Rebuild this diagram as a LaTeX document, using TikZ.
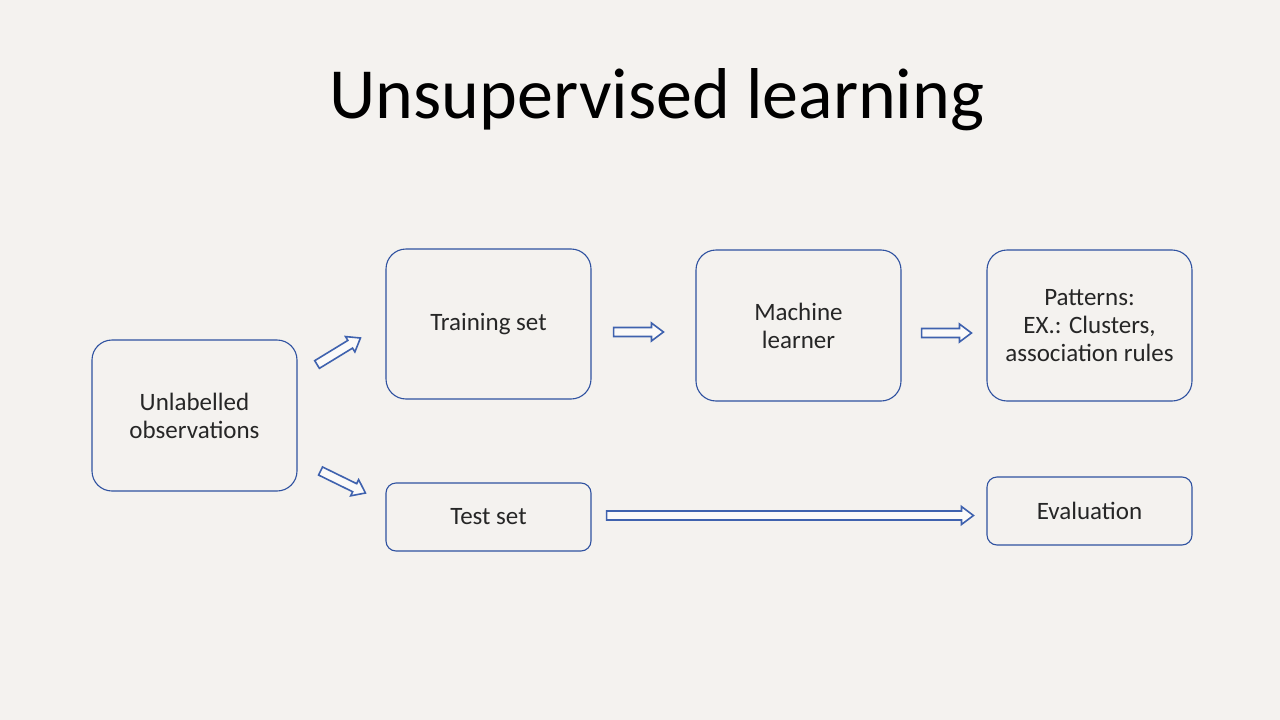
\documentclass[tikz,border=0pt]{standalone}
\usepackage{fontspec}
\setmainfont{Carlito}
\usetikzlibrary{calc}
\definecolor{bg}{HTML}{F4F2EF}
\definecolor{boxblue}{HTML}{2F52A0}
\definecolor{arrblue}{HTML}{3F62AE}
\tikzset{
  rbox/.style={draw=boxblue, line width=1.1pt, rounded corners=20pt, align=center,
    font=\fontsize{25}{28}\selectfont, text=black!85},
  sbox/.style={rbox, rounded corners=10pt},
  barr/.style={draw=arrblue, line width=1.6pt, fill=white!60!bg, line join=miter},
}
% block arrow from #1 to #2, neck coordinate named #3
\newcommand\blockarr[3]{%
  \coordinate (#3) at ($(#2)!12pt!(#1)$);
  \path[barr] ($(#1)!4.5pt!-90:(#2)$) -- ($(#3)!4.5pt!-90:(#2)$) -- ($(#3)!9pt!-90:(#2)$)
    -- (#2) -- ($(#3)!9pt!90:(#2)$) -- ($(#3)!4.5pt!90:(#2)$) -- ($(#1)!4.5pt!90:(#2)$) -- cycle;
}
\begin{document}
\begin{tikzpicture}[x=1pt,y=-1pt]
\fill[bg] (0,0) rectangle (1280,720);
\useasboundingbox (0,0) rectangle (1280,720);

\node[font=\fontsize{72}{80}\selectfont, text=black] (title) at (657,100) {Unsupervised learning};

\node[rbox, minimum width=205pt, minimum height=151pt] (unl) at (194.5,415.5) {Unlabelled\\observations};
\node[rbox, minimum width=205pt, minimum height=150pt] (train) at (488.5,324) {Training set};
\node[rbox, minimum width=205pt, minimum height=151pt] (ml) at (798.5,325.5) {Machine\\learner};
\node[rbox, minimum width=205pt, minimum height=151pt] (pat) at (1089.5,325.5) {Patterns:\\EX.: Clusters,\\association rules};
\node[sbox, minimum width=205pt, minimum height=68pt] (test) at (488.5,517) {Test set};
\node[sbox, minimum width=205pt, minimum height=68pt] (eval) at (1089.5,511) {Evaluation};

\coordinate (a1s) at ($(unl.east)+(19.5,-51)$);
\coordinate (a1e) at ($(train.west)+(-25,14)$);
\blockarr{a1s}{a1e}{a1n}
\coordinate (a2s) at ($(unl.east)+(23,55.5)$);
\coordinate (a2e) at ($(test.west)+(-20,-24)$);
\blockarr{a2s}{a2e}{a2n}
\coordinate (a3s) at ($(train.east)+(22,8)$);
\coordinate (a3e) at ($(ml.west)+(-32,6.5)$);
\blockarr{a3s}{a3e}{a3n}
\coordinate (a4s) at ($(ml.east)+(20,7.5)$);
\coordinate (a4e) at ($(pat.west)+(-15,7.5)$);
\blockarr{a4s}{a4e}{a4n}
\coordinate (a5s) at ($(test.east)+(15,-1.5)$);
\coordinate (a5e) at ($(eval.west)+(-13,4.5)$);
\blockarr{a5s}{a5e}{a5n}
\end{tikzpicture}
\end{document}
